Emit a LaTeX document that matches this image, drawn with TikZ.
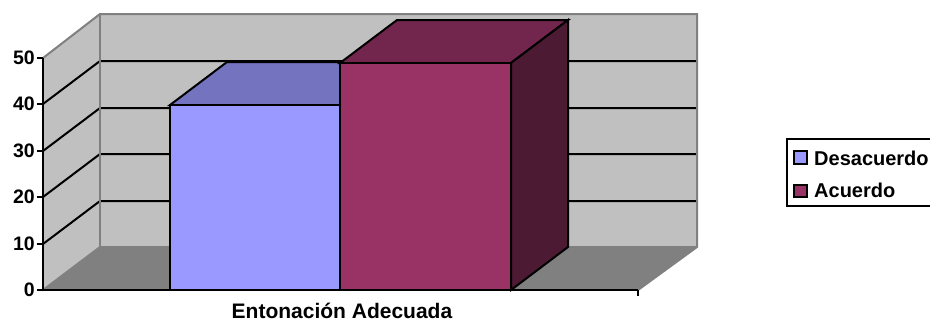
\documentclass[tikz,border=0pt]{standalone}
\usepackage{fontspec}
\setmainfont{Liberation Sans}
\begin{document}
\begin{tikzpicture}[x=1pt,y=-1pt,line join=miter,
  border/.style={draw=bordergray,line width=2pt},
  grid/.style={draw=black,line width=2pt},
  bar/.style={draw=black,line width=2pt},
  lbl/.style={font=\fontsize{19.5}{19.5}\selectfont\bfseries,inner sep=0pt},
  leglbl/.style={font=\fontsize{20}{20}\selectfont\bfseries,inner sep=0pt,anchor=base west},
  ]
\definecolor{wallgray}{HTML}{C0C0C0}
\definecolor{floorgray}{HTML}{808080}
\definecolor{bordergray}{HTML}{808080}
\definecolor{blueF}{HTML}{9999FF}
\definecolor{blueT}{HTML}{7373BF}
\definecolor{redF}{HTML}{993366}
\definecolor{redT}{HTML}{73264D}
\definecolor{redS}{HTML}{4D1A33}
\useasboundingbox (0,0) rectangle (930,322);
\clip (0,0) rectangle (930,322);
% walls
\fill[wallgray] (100,14) rectangle (697,247);
\fill[wallgray] (43,290) -- (43,58) -- (100,14) -- (100,247) -- cycle;
\fill[floorgray] (43,290) -- (100,247) -- (697,247) -- (638,290) -- cycle;
% gridlines
\foreach \y in {104,151,197,244} {
  \draw[grid] (43,\y) -- (100,\y-43) -- (697,\y-43);
}
% borders
\draw[border] (43,58) -- (100,14) -- (697,14) -- (697,247) -- (638,290);
\draw[border] (100,14) -- (100,247) -- (697,247);
\draw[border] (43,290) -- (100,247);
% bar 1 (Desacuerdo)
\draw[bar,fill=blueT] (170,105) -- (227,62) -- (397,62) -- (340,105) -- cycle;
\draw[bar,fill=blueF] (170,105) rectangle (340,290);
% bar 2 (Acuerdo)
\draw[bar,fill=redT] (340,63) -- (397,20) -- (568,20) -- (511,63) -- cycle;
\draw[bar,fill=redS] (511,63) -- (568,20) -- (568,247) -- (511,290) -- cycle;
\draw[bar,fill=redF] (340,63) rectangle (511,290);
% axes
\draw[grid] (43,58) -- (43,290) -- (638,290);
\draw[grid] (638,290) -- (638,296);
\foreach \y/\v in {58/50,104/40,151/30,197/20,244/10,290/0} {
  \draw[grid] (37,\y) -- (43,\y);
  \node[lbl,anchor=east] (t\v) at (35,\y) {\v};
}
\node[lbl,font=\fontsize{21}{21}\selectfont\bfseries,text depth=0pt,anchor=base] (xl) at (342,318) {Entonación Adecuada};
% legend
\draw[line width=2pt] (945,139) -- (787,139) -- (787,206) -- (945,206);
\draw[line width=1.6pt,fill=blueF] (794,151) rectangle (807,164);
\draw[line width=1.6pt,fill=redF] (794,185) rectangle (807,197);
\node[leglbl] (l1) at (814,165) {Desacuerdo};
\node[leglbl] (l2) at (814,197) {Acuerdo};
\end{tikzpicture}
\end{document}
